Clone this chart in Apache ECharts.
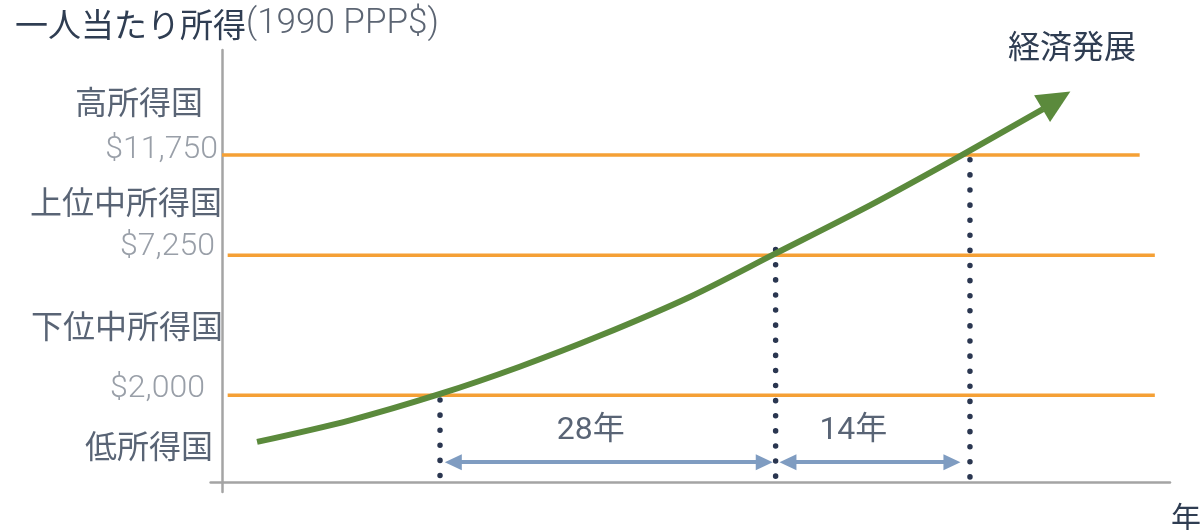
<!DOCTYPE html>
<html><head><meta charset="utf-8">
<script src="https://cdn.jsdelivr.net/npm/echarts@6/dist/echarts.min.js"></script>
<style>html,body{margin:0;padding:0;background:#fff}#c{width:1202px;height:530px}</style>
</head><body><div id="c"></div>
<script>
// ---- data (abstract diagram units: x = time progress, y = income index) ----
const levelLabels = ['$2,000', '$7,250', '$11,750'];
const levelY = [20.1, 52.5, 75.7];
const levelStartX = [0.6, 0.6, 0];
const levelEndX = [98.4, 98.4, 96.8];

const tierNames = ['低所得国', '下位中所得国', '上位中所得国', '高所得国'];
const tierY = [8.3, 36.1, 64.8, 88.0];

const curveX = [3.7, 13.5, 23.0, 31.4, 39.9, 49.4, 58.3, 68.4, 77.9, 86.6];
const curveY = [9.3, 14.3, 20.4, 26.7, 33.9, 42.9, 52.8, 64.1, 75.5, 86.3];
const arrowHead = [88.0, 88.4];

const crossX = [23.0, 58.4, 78.9];
const crossTopY = [19.0, 53.8, 74.6];

const spanLabels = ['28年', '14年'];
const spanStartX = [24.4, 59.7];
const spanEndX = [57.2, 77.0];
const spanY = 4.6;
const spanLabelX = [38.9, 66.6];
const spanLabelY = 11.8;

const yTitle = '一人当たり所得';
const yUnit = '(1990 PPP$)';
const xName = '年';
const curveName = '経済発展';

// ---- styles ----
const NAVY = '#2f3d52';
const GREY_TXT = '#7f8792';
const ORANGE = '#f5a035';
const GREEN = '#5b8a3c';
const DOT = '#2a3650';
const BLUE = '#7f9cc1';
const AXIS = '#a4a4a4';
const CJK = '"Noto Sans CJK JP", "Noto Sans", sans-serif';
const LAT = 'Roboto, "Noto Sans CJK JP", sans-serif';

const tierOffsetX = [-9, 1, 0, -19];
const levelOffset = [[-17, -6.5], [-7, -8], [-4, -5]];

const series = [];

// orange level lines
levelY.forEach((y, i) => {
  series.push({
    type: 'line', z: 2, symbol: 'none', silent: true,
    data: [[levelStartX[i], y], [levelEndX[i], y]],
    lineStyle: { color: ORANGE, width: 3.5 }
  });
});

// dotted verticals
crossX.forEach((x, i) => {
  series.push({
    type: 'line', z: 3, symbol: 'none', silent: true,
    data: [[x, crossTopY[i]], [x, 0.9]],
    lineStyle: { color: DOT, width: 5.5, type: [0.1, 15], cap: 'round' }
  });
});

// growth curve with arrow head
series.push({
  type: 'line', z: 5, symbol: 'none', smooth: 0.3, silent: true,
  data: curveX.map((x, i) => [x, curveY[i]]),
  lineStyle: { color: GREEN, width: 6, cap: 'butt' },
  markPoint: {
    silent: true,
    data: [{ coord: arrowHead, symbol: 'triangle', symbolSize: [31, 33], symbolRotate: -59,
             itemStyle: { color: GREEN }, label: { show: false } }]
  }
});

// span arrows
series.push({
  type: 'line', z: 4, data: [], silent: true,
  markLine: {
    silent: true,
    symbol: ['triangle', 'triangle'],
    symbolSize: [16, 17],
    lineStyle: { color: BLUE, width: 4, type: 'solid' },
    itemStyle: { color: BLUE },
    label: { show: false },
    data: spanStartX.map((x, i) => [{ coord: [x, spanY] }, { coord: [spanEndX[i], spanY] }])
  }
});

// span labels
series.push({
  type: 'scatter', z: 6, symbolSize: 0, silent: true,
  data: spanLabels.map((t, i) => ({ value: [spanLabelX[i], spanLabelY], name: t })),
  label: { show: true, position: 'inside', formatter: p => p.name,
           color: NAVY, fontSize: 32, fontFamily: LAT }
});

// tier labels
series.push({
  type: 'scatter', z: 6, symbolSize: 0, silent: true,
  data: tierNames.map((t, i) => ({
    value: [0, tierY[i]], name: t,
    label: { offset: [tierOffsetX[i], 0] }
  })),
  label: { show: true, position: 'left', distance: 0, formatter: p => p.name,
           color: NAVY, fontSize: 32, fontFamily: CJK }
});

// level value labels
series.push({
  type: 'scatter', z: 6, symbolSize: 0, silent: true,
  data: levelLabels.map((t, i) => ({
    value: [0, levelY[i]], name: t,
    label: { offset: levelOffset[i] }
  })),
  label: { show: true, position: 'left', distance: 0, formatter: p => p.name,
           color: GREY_TXT, fontSize: 32, fontWeight: 300, fontFamily: LAT }
});

const option = {
  animation: false,
  backgroundColor: '#fff',
  title: [
    { text: '{a|' + yTitle + '}{b|' + yUnit + '}', left: 10, top: 0,
      textStyle: { fontWeight: 'normal', rich: {
        a: { fontFamily: CJK, fontSize: 33, fontWeight: 'normal', color: NAVY, lineHeight: 38 },
        b: { fontFamily: LAT, fontSize: 35, fontWeight: 300, color: '#5c6573', lineHeight: 38 }
      } } },
    { text: curveName, left: 1003, top: 23,
      textStyle: { fontFamily: CJK, fontSize: 32, fontWeight: 'normal', color: NAVY, lineHeight: 36 } },
    { text: xName, left: 1166, top: 495,
      textStyle: { fontFamily: CJK, fontSize: 30, fontWeight: 'normal', color: NAVY, lineHeight: 34 } }
  ],
  grid: { left: 210.6, right: 32, top: 50, bottom: 38 },
  xAxis: {
    type: 'value', min: -1.2, max: 100,
    axisLine: { show: true, onZero: true, lineStyle: { color: AXIS, width: 2.5 } },
    axisTick: { show: false }, axisLabel: { show: false }, splitLine: { show: false }
  },
  yAxis: {
    type: 'value', min: -2.3, max: 100,
    axisLine: { show: true, onZero: true, lineStyle: { color: AXIS, width: 2.5 } },
    axisTick: { show: false }, axisLabel: { show: false }, splitLine: { show: false }
  },
  series
};

const chart = echarts.init(document.getElementById('c'), null, { renderer: 'canvas' });
chart.setOption(option);
</script>
</body></html>
